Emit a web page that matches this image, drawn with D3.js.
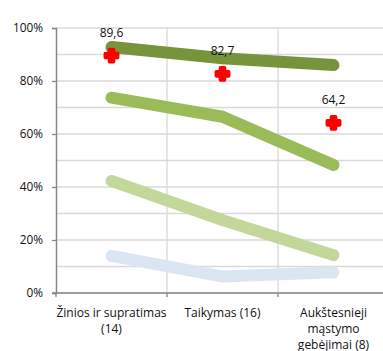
<!DOCTYPE html>
<html>
<head>
<meta charset="utf-8">
<script src="https://cdn.jsdelivr.net/npm/d3@7"></script>
<style>
  html, body { margin: 0; padding: 0; background: #fff; }
  svg { display: block; }
  text { font-family: "Open Sans", "Noto Sans", sans-serif; fill: #111; }
</style>
</head>
<body>
<svg id="chart" width="383" height="351"></svg>
<script>
// Skill groups (number of tasks in brackets)
const categories = [
  ["Žinios ir supratimas", "(14)"],
  ["Taikymas (16)"],
  ["Aukštesnieji", "mąstymo", "gebėjimai (8)"]
];
const categoryKeys = ["zin", "taik", "auk"];

// Share of students per level line, percent
const seriesDark  = [92.8, 88.6, 86.0];
const seriesMid   = [73.7, 66.5, 48.3];
const seriesLight = [42.3, 27.5, 14.3];
const seriesBlue  = [14.0, 6.2, 7.8];
const seriesColors = ["#77933c", "#9bbb59", "#c4d79b", "#dce6f2"];

// Average score per group (red markers)
const averages = [89.6, 82.7, 64.2];
const yTicks = [0, 20, 40, 60, 80, 100];
const yGrid = [0, 10, 20, 30, 40, 50, 60, 70, 80, 90, 100];

const svg = d3.select("#chart");
const plotLeft = 56, plotRight = 389, plotTop = 28, plotBottom = 293;

const x = d3.scaleBand().domain(categoryKeys).range([plotLeft, plotRight]);
const y = d3.scaleLinear().domain([0, 100]).range([plotBottom, plotTop]);
const cx = i => x(categoryKeys[i]) + x.bandwidth() / 2;

// Gridlines
svg.append("g").selectAll("line").data(yGrid).join("line")
  .attr("x1", plotLeft).attr("x2", 383)
  .attr("y1", d => y(d)).attr("y2", d => y(d))
  .attr("stroke", "#d9d9d9").attr("stroke-width", 1.3);
svg.append("g").selectAll("line").data(categoryKeys.slice(1)).join("line")
  .attr("x1", d => x(d)).attr("x2", d => x(d))
  .attr("y1", plotTop).attr("y2", plotBottom)
  .attr("stroke", "#d9d9d9").attr("stroke-width", 1.3);

// Y axis
const yAxis = svg.append("g").attr("transform", `translate(${plotLeft},0)`)
  .call(d3.axisLeft(y).tickValues(yTicks).tickFormat(d => d + "%").tickSize(4).tickPadding(9));
yAxis.select(".domain").attr("stroke", "#868686").attr("stroke-width", 1.5);
yAxis.selectAll(".tick line").attr("stroke", "#868686").attr("stroke-width", 1.3);
yAxis.selectAll(".tick text").attr("font-size", 11.8).attr("fill", "#111")
  .attr("font-family", "'Open Sans', sans-serif");

// X axis
const xAxisG = svg.append("g").attr("transform", `translate(0,${plotBottom})`);
xAxisG.append("line").attr("x1", plotLeft - 4).attr("x2", 383)
  .attr("stroke", "#868686").attr("stroke-width", 1.5);
xAxisG.selectAll(".xt").data(categoryKeys).join("line")
  .attr("class", "xt")
  .attr("x1", d => x(d)).attr("x2", d => x(d))
  .attr("y1", 0).attr("y2", 4)
  .attr("stroke", "#868686").attr("stroke-width", 1.3);

// Category labels
const lineH = 16;
categoryKeys.forEach((k, i) => {
  const t = svg.append("text")
    .attr("text-anchor", "middle")
    .attr("font-size", 12);
  categories[i].forEach((s, j) => {
    t.append("tspan")
      .attr("x", cx(i))
      .attr("y", 317 + j * lineH)
      .text(s);
  });
});

// Level lines
const line = d3.line()
  .x((d, i) => cx(i))
  .y(d => y(d));
const allSeries = [seriesBlue, seriesLight, seriesMid, seriesDark];
const colorsOrdered = [seriesColors[3], seriesColors[2], seriesColors[1], seriesColors[0]];
svg.append("g").selectAll("path").data(allSeries).join("path")
  .attr("d", d => line(d))
  .attr("fill", "none")
  .attr("stroke", (d, i) => colorsOrdered[i])
  .attr("stroke-width", 12)
  .attr("stroke-linecap", "round")
  .attr("stroke-linejoin", "round");

// Average markers with value labels
const cross = d3.symbol().type(d3.symbolCross).size(85);
const mk = svg.append("g");
mk.selectAll("path").data(averages).join("path")
  .attr("d", cross)
  .attr("transform", (d, i) => `translate(${cx(i)},${y(d)})`)
  .attr("fill", "#ff0000")
  .attr("stroke", "#ff0000")
  .attr("stroke-width", 3.5)
  .attr("stroke-linejoin", "round");
mk.selectAll("text").data(averages).join("text")
  .attr("x", (d, i) => cx(i))
  .attr("y", d => y(d) - 19)
  .attr("text-anchor", "middle")
  .attr("font-size", 12)
  .text(d => d.toFixed(1).replace(".", ","));
</script>
</body>
</html>
